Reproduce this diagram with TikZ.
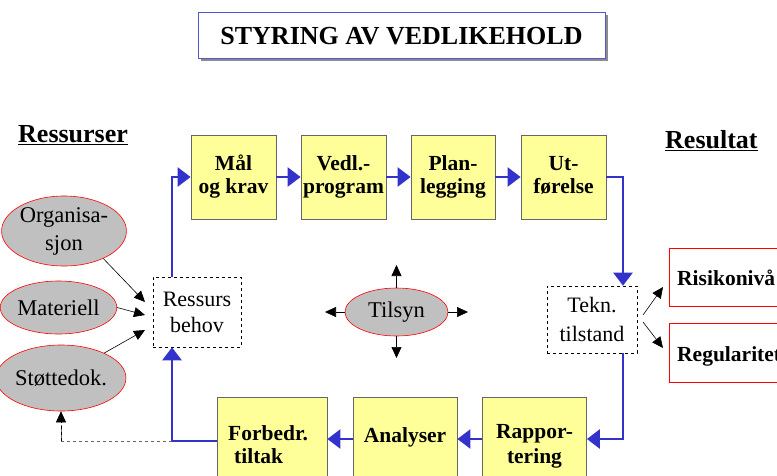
\documentclass[tikz,border=0pt]{standalone}
\usepackage{fontspec}
\setmainfont{Liberation Serif}
\usetikzlibrary{arrows.meta,shapes.geometric}
\definecolor{boxyellow}{HTML}{FFFF99}
\definecolor{flowblue}{HTML}{3333CC}
\definecolor{ovalgray}{HTML}{C0C0C0}
\definecolor{titleblue}{HTML}{5555CC}
\tikzset{
  stepbox/.style={draw=black!60, fill=boxyellow, line width=0.8pt, minimum height=84pt,
    inner sep=0pt},
  steptext/.style={font=\fontsize{21.5}{23}\selectfont\bfseries, align=center, anchor=base, inner sep=0pt},
  resoval/.style={ellipse, draw=red, fill=ovalgray, line width=0.6pt, inner sep=0pt,
    align=center, font=\fontsize{22.5}{28}\selectfont},
  dashbox/.style={draw=black, dashed, line width=0.6pt, inner sep=0pt, align=center,
    font=\fontsize{22}{26}\selectfont},
  resbox/.style={draw=red, line width=1.3pt, fill=white},
  flow/.style={draw=flowblue, line width=2.6pt, -{Triangle[length=13pt,width=19pt]}},
  thin/.style={draw=black, line width=0.6pt, -{Triangle[length=11pt,width=10pt]}},
  heading/.style={font=\fontsize{26}{28}\selectfont\bfseries, inner sep=0pt}
}
\begin{document}
\begin{tikzpicture}[x=1pt,y=-1pt]
\clip (0,0) rectangle (777,475);
\useasboundingbox (0,0) rectangle (777,475);
% title
\fill[black!45] (201,15) rectangle (608,61);
\draw[titleblue, fill=white, line width=0.8pt] (198,12) rectangle (605,58);
\node[heading] (title) at (401.5,36) {STYRING AV VEDLIKEHOLD};
% headings
\node[heading, anchor=base west] (ress) at (18,142) {\underline{Ressurser}};
\node[heading, anchor=base west] (resu) at (665,148) {\underline{Resultat}};
% top boxes
\node[stepbox, minimum width=85pt] (maal) at (233.5,177) {};
\node[steptext] (maalt) at (233.5,193) {Mål\\og krav};
\node[stepbox, minimum width=85pt] (vedl) at (343.5,177) {};
\node[steptext] (vedlt) at (343.5,193) {Vedl.-\\program};
\node[stepbox, minimum width=84pt] (plan) at (453,177) {};
\node[steptext] (plant) at (453,193) {Plan-\\legging};
\node[stepbox, minimum width=85pt] (utf) at (563.5,177) {};
\node[steptext] (utft) at (563.5,193) {Ut-\\førelse};
% bottom boxes
\node[stepbox, minimum width=110pt] (forb) at (272,439) {};
\node[steptext, align=left, anchor=base west] (forbt) at (228,463) {Forbedr.\\\hspace*{6pt}tiltak};
\node[stepbox, minimum width=104pt] (anal) at (405,439) {};
\node[steptext] (analt) at (405,442) {Analyser};
\node[stepbox, minimum width=104pt] (rapp) at (534.5,439) {};
\node[steptext, font=\fontsize{21.5}{25}\selectfont\bfseries] (rappt) at (534.5,463) {Rappor-\\tering};
% dashed boxes
\node[dashbox, minimum width=88pt, minimum height=70pt] (rb) at (197,312) {Ressurs\\behov};
\node[dashbox, minimum width=90pt, minimum height=67pt, font=\fontsize{22}{29}\selectfont] (tt) at (592,319.5) {Tekn.\\tilstand};
% result boxes
\node[resbox, minimum width=140pt, minimum height=58pt, anchor=north west] (risk) at (669,248) {};
\node[steptext, anchor=base west] (riskt) at (677,285) {Risikonivå};
\node[resbox, minimum width=140pt, minimum height=59pt, anchor=north west] (regu) at (669,323) {};
\node[steptext, anchor=base west] (regut) at (677,361) {Regularitet};
% ovals
\node[resoval, minimum width=110pt, minimum height=70pt] (org) at (64,231) {Organisa-\\sjon};
\node[resoval, minimum width=97pt, minimum height=53pt] (mat) at (58.5,307.5) {Materiell};
\node[resoval, minimum width=104pt, minimum height=66pt] (stot) at (61,378) {Støttedok.};
\node[resoval, minimum width=103pt, minimum height=48pt] (tils) at (396.5,312) {Tilsyn};
% tilsyn arrows
\coordinate (tu) at (396.5,265);
\coordinate (td) at (396.5,358);
\coordinate (tl) at (325,312);
\coordinate (tr) at (468,312);
\draw[thin] (tils.north) -- (tu);
\draw[thin] (tils.south) -- (td);
\draw[thin] (tils.west) -- (tl);
\draw[thin] (tils.east) -- (tr);
% resource arrows
\draw[thin] (org.-35) -- (145,302);
\draw[thin] (mat.east) -- (145,315);
\draw[thin] (stot.30) -- (145,330);
% result arrows
\draw[thin] (643,315) -- (663,287);
\draw[thin] (643,322) -- (663,348);
% blue flow
\draw[flow] (rb.north -| 172,0) |- (maal.west);
\draw[flow] (maal.east) -- (vedl.west);
\draw[flow] (vedl.east) -- (plan.west);
\draw[flow] (plan.east) -- (utf.west);
\draw[flow] (utf.east) -| (tt.north -| 623,0);
\draw[flow] (tt.south -| 623,0) |- (rapp.east);
\draw[flow] (rapp.west) -- (anal.east);
\draw[flow] (anal.west) -- (forb.east);
\draw[flow] (forb.west |- 0,441) -| (rb.south -| 172,0);
% dashed return
\draw[black!60, dashed, line width=0.6pt] (172,441) -- (61,441) -- (61,425);
\draw[thin, dashed] (61,441) -- (stot.south);
\end{tikzpicture}
\end{document}
